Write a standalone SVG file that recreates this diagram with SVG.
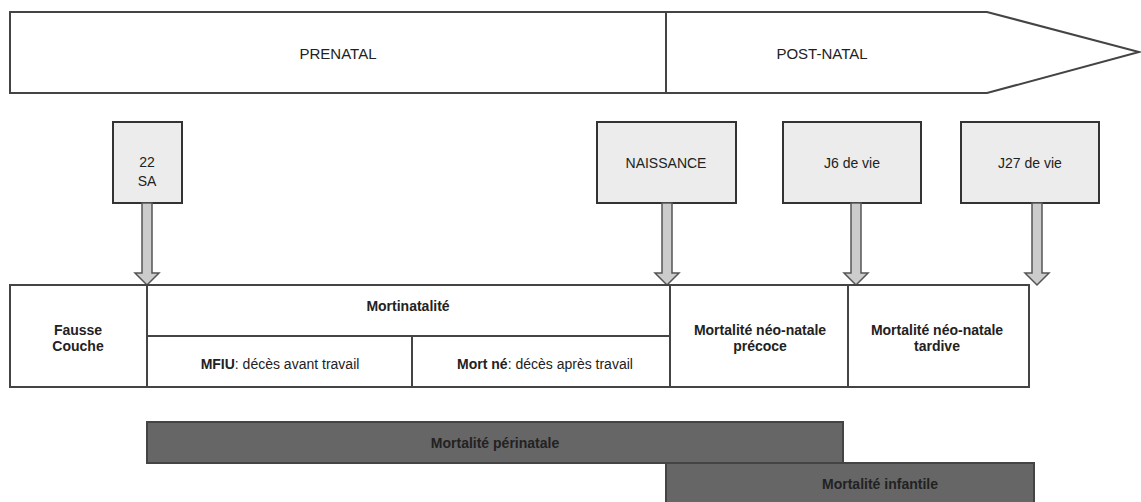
<svg xmlns="http://www.w3.org/2000/svg" width="1141" height="502" viewBox="0 0 1141 502">
<style>
text{font-family:"Liberation Sans",Arial,sans-serif;font-size:14px;fill:#222;text-anchor:middle}
.b{font-weight:bold}
.big{font-size:15px}
.band{fill:#fff;stroke:#444;stroke-width:2}
.tag{fill:#ececec;stroke:#333;stroke-width:2}
.cell{fill:#fff;stroke:#444;stroke-width:2}
.dark{fill:#666;stroke:#444;stroke-width:2}
.arr{fill:#ccc;stroke:#555;stroke-width:1.5}
</style>
<defs>
<path id="ar" class="arr" d="M-5,0 H5 V70 H12 L0,82 L-12,70 H-5 Z"/>
</defs>
<g id="prenatal">
<rect class="band" x="10" y="12" width="656" height="81"/>
<text class="big" x="338" y="59">PRENATAL</text>
</g>
<g id="postnatal">
<path class="band" d="M666,12 H987 L1139,52 L987,93 H666 Z"/>
<text class="big" x="822" y="59">POST-NATAL</text>
</g>
<g id="sa22">
<rect class="tag" x="113" y="122" width="69" height="81"/>
<text x="147" y="167">22</text>
<text x="147" y="186">SA</text>
</g>
<g id="naissance">
<rect class="tag" x="597" y="122" width="139" height="81"/>
<text x="666" y="168">NAISSANCE</text>
</g>
<g id="j6">
<rect class="tag" x="783" y="122" width="138" height="81"/>
<text x="852" y="168">J6 de vie</text>
</g>
<g id="j27">
<rect class="tag" x="961" y="122" width="138" height="81"/>
<text x="1030" y="168">J27 de vie</text>
</g>
<g id="connectors">
<use href="#ar" x="147" y="203"/>
<use href="#ar" x="667" y="203"/>
<use href="#ar" x="856" y="203"/>
<use href="#ar" x="1037" y="203"/>
</g>
<g id="fausse-couche">
<rect class="cell" x="10" y="285" width="137" height="102"/>
<text class="b" x="78" y="335">Fausse</text>
<text class="b" x="78" y="351">Couche</text>
</g>
<g id="mortinatalite">
<rect class="cell" x="147" y="285" width="523" height="51"/>
<text class="b" x="408" y="311">Mortinatalité</text>
</g>
<g id="mfiu">
<rect class="cell" x="147" y="336" width="265" height="51"/>
<text x="280" y="369"><tspan class="b">MFIU</tspan>: décès avant travail</text>
</g>
<g id="mort-ne">
<rect class="cell" x="412" y="336" width="258" height="51"/>
<text x="545" y="369"><tspan class="b">Mort né</tspan>: décès après travail</text>
</g>
<g id="neonatale-precoce">
<rect class="cell" x="670" y="285" width="178" height="102"/>
<text class="b" x="760" y="335">Mortalité néo-natale</text>
<text class="b" x="760" y="351">précoce</text>
</g>
<g id="neonatale-tardive">
<rect class="cell" x="848" y="285" width="181" height="102"/>
<text class="b" x="937" y="335">Mortalité néo-natale</text>
<text class="b" x="937" y="351">tardive</text>
</g>
<g id="perinatale">
<rect class="dark" x="147" y="422" width="696" height="41"/>
<text class="b" x="495" y="448">Mortalité périnatale</text>
</g>
<g id="infantile">
<rect class="dark" x="666" y="463" width="368" height="42"/>
<text class="b" x="880" y="489">Mortalité infantile</text>
</g>
</svg>
